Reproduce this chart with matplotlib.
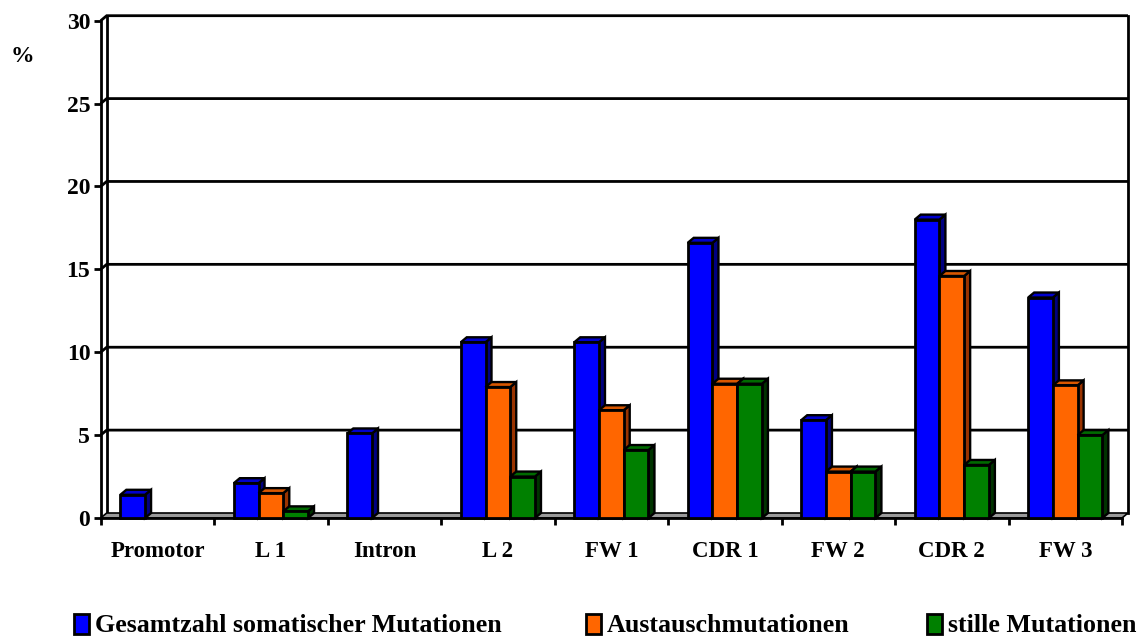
import matplotlib
matplotlib.use("Agg")
import matplotlib.pyplot as plt
from matplotlib.patches import Polygon, Rectangle
from matplotlib.transforms import blended_transform_factory
import numpy as np

# ---- data -------------------------------------------------------------
categories = ["Promotor", "L 1", "Intron", "L 2", "FW 1", "CDR 1", "FW 2", "CDR 2", "FW 3"]
gesamt = [1.4, 2.1, 5.1, 10.6, 10.6, 16.6, 5.9, 18.0, 13.3]
austausch = [0, 1.5, 0, 7.9, 6.5, 8.1, 2.8, 14.6, 8.0]
stille = [0, 0.4, 0, 2.5, 4.1, 8.1, 2.8, 3.2, 5.0]
series_names = ["Gesamtzahl somatischer Mutationen", "Austauschmutationen", "stille Mutationen"]
y_ticks = [0, 5, 10, 15, 20, 25, 30]

# front / top / side shades for each series
front_colors = ["#0000FF", "#FF6600", "#008000"]
top_colors = ["#0000CC", "#D95700", "#006A00"]
side_colors = ["#000080", "#993300", "#003300"]

plt.rcParams['font.family'] = ['Liberation Serif', 'DejaVu Serif']
plt.rcParams['font.weight'] = 'bold'

W, H = 1142, 636
fig = plt.figure(figsize=(W / 100, H / 100), dpi=100)

# ---- geometry of the pseudo-3D box (pixels) ---------------------------
x_left_px, x_right_px = 100.7, 1122.0
y_zero_px, y_top_px = 518.0, 20.7
depth_x_px, depth_y_px = 6.0, 5.0
ymax = 30

cat_px = (x_right_px - x_left_px) / len(categories)
unit_px = (y_zero_px - y_top_px) / ymax
dxd = depth_x_px / cat_px
dyd = depth_y_px / unit_px

ax = fig.add_axes([x_left_px / W, (H - y_zero_px) / H,
                   (x_right_px - x_left_px + depth_x_px) / W,
                   (y_zero_px - y_top_px + depth_y_px) / H])
n = len(categories)
x_lo, x_hi = -0.5, n - 0.5
ax.set_xlim(x_lo, x_hi + dxd)
ax.set_ylim(0, ymax + dyd)
ax.patch.set_visible(False)

lw = 2.0
# back wall grid lines with their short diagonal on the side wall
for v in y_ticks[1:]:
    ax.plot([x_lo, x_lo + dxd, x_hi + dxd], [v, v + dyd, v + dyd],
            color="black", lw=lw, zorder=1, clip_on=False,
            solid_joinstyle="miter", solid_capstyle="butt")
# wall edges
ax.plot([x_lo + dxd] * 2, [dyd, ymax + dyd], color="black", lw=lw, zorder=1, clip_on=False)
ax.plot([x_hi + dxd] * 2, [dyd, ymax + dyd], color="black", lw=lw, zorder=1, clip_on=False)
# floor
floor = Polygon([(x_lo, 0), (x_hi, 0), (x_hi + dxd, dyd), (x_lo + dxd, dyd)],
                closed=True, facecolor="#9a9a9a", edgecolor="black", lw=1.2,
                zorder=1.5, clip_on=False)
ax.add_patch(floor)

# ---- bars --------------------------------------------------------------
series = [gesamt, austausch, stille]
bar_w = 0.218
x = np.arange(n)
for s, vals in enumerate(series):
    xs = x + (s - 1) * bar_w
    z = 3 + s
    for xc, h in zip(xs, vals):
        if h <= 0:
            continue
        x0, x1 = xc - bar_w / 2, xc + bar_w / 2
        ax.bar(xc, h, width=bar_w, color=front_colors[s], edgecolor="black",
               lw=lw, zorder=z + 0.2, clip_on=False)
        top = Polygon([(x0, h), (x1, h), (x1 + dxd, h + dyd), (x0 + dxd, h + dyd)],
                      closed=True, facecolor=top_colors[s], edgecolor="black",
                      lw=lw * 0.85, zorder=z, clip_on=False, joinstyle="miter")
        side = Polygon([(x1, 0), (x1 + dxd, dyd), (x1 + dxd, h + dyd), (x1, h)],
                       closed=True, facecolor=side_colors[s], edgecolor="black",
                       lw=lw * 0.85, zorder=z, clip_on=False, joinstyle="miter")
        ax.add_patch(side)
        ax.add_patch(top)

# ---- axes, ticks and labels -------------------------------------------
for side_name in ("top", "right"):
    ax.spines[side_name].set_visible(False)
ax.spines["left"].set_bounds(0, ymax)
ax.spines["bottom"].set_bounds(x_lo, x_hi)
for sp in ("left", "bottom"):
    ax.spines[sp].set_linewidth(lw)
    ax.spines[sp].set_zorder(2)

ax.set_yticks(y_ticks)
ax.set_yticklabels([str(v) for v in y_ticks])
ax.tick_params(axis="y", direction="out", length=5, width=lw, pad=2.5, labelsize=17)
ax.set_xticks(np.arange(x_lo, x_hi + 0.01, 1.0))
ax.set_xticklabels([])
ax.tick_params(axis="x", direction="out", length=5, width=lw)

lab_tr = blended_transform_factory(ax.transData, fig.transFigure)
for xc, name in zip(x, categories):
    ax.text(xc, 1 - 557 / H, name, transform=lab_tr, ha="center", va="baseline",
            fontsize=16.5, fontweight="bold")

fig.text(22 / W, 1 - 57 / H, "%", ha="center", va="center", fontsize=17, fontweight="bold")

# ---- legend ------------------------------------------------------------
leg_text_x = [95, 607, 948]
for s, name in enumerate(series_names):
    tx = leg_text_x[s]
    sq = Rectangle(((tx - 21) / W, 1 - 634 / H), 15 / W, 20 / H,
                   transform=fig.transFigure, facecolor=front_colors[s],
                   edgecolor="black", lw=2.0)
    fig.patches.append(sq)
    fig.text(tx / W, 1 - 631.5 / H, name, ha="left", va="baseline",
             fontsize=18.7, fontweight="bold")

fig.savefig("out.png", dpi=100, facecolor="white")
